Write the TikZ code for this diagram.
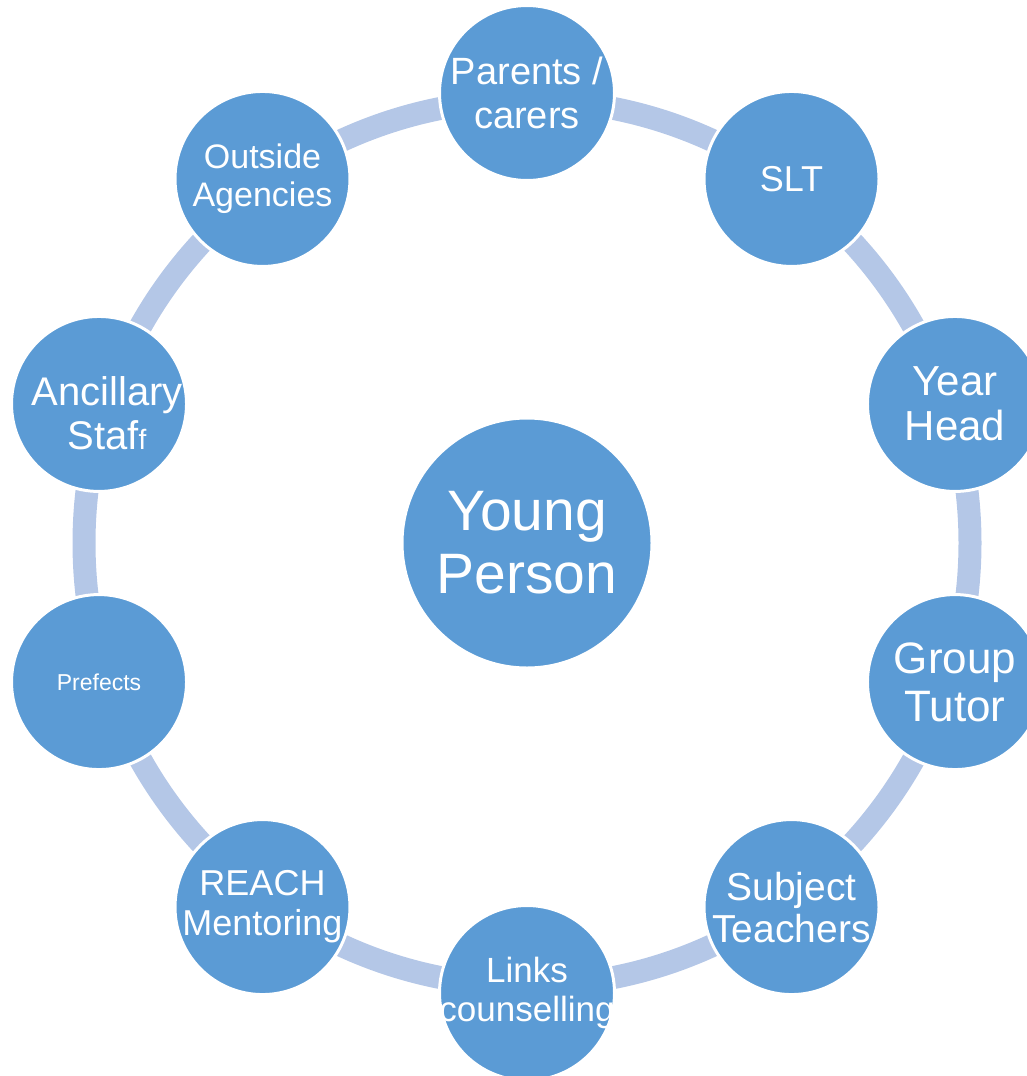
\documentclass[tikz,border=0pt]{standalone}
\usepackage{fontspec}
\setmainfont{Liberation Sans}
\definecolor{bubble}{HTML}{5B9BD5}
\definecolor{ringblue}{HTML}{B4C7E7}
\newcommand\wide[1]{\makebox[0pt]{#1}}
\tikzset{
	member/.style={circle, fill=bubble, draw=white, line width=3pt, minimum size=175pt, inner sep=0pt, text=white, align=center},
	ring/.style={draw=ringblue, line width=23pt}
}
\begin{document}
\begin{tikzpicture}[x=1pt, y=1pt, line join=round, line cap=round]
	\def\R{450} \def\r{443}
	\useasboundingbox (0,0) rectangle (1027,-1076);
	\begin{scope}[shift={(527,-543)}]
		% the ring behind everything
		\draw[ring] (0,0) circle[radius=\r];
		\node[member, minimum size=250pt, font=\fontsize{57}{63}\selectfont] (young) at (0,0) {Young\\Person};
		\node[member, font=\fontsize{38}{44}\selectfont] (parents) at (90:\R) {\wide{Parents /}\\carers};
		\node[member, font=\fontsize{36}{42}\selectfont] (slt) at (54:\R) {SLT};
		\node[member, font=\fontsize{42}{45}\selectfont] (yearhead) at (18:\R) {Year\\Head};
		\node[member, font=\fontsize{44}{48}\selectfont] (tutor) at (-18:\R) {Group\\Tutor};
		\node[member, font=\fontsize{39}{42}\selectfont] (subject) at (-54:\R) {\wide{Subject}\\\wide{Teachers}};
		\node[member, font=\fontsize{35}{39}\selectfont] (links) at (-90:\R) {\wide{Links}\\\wide{counselling}};
		\node[member, font=\fontsize{36}{40}\selectfont] (reach) at (-126:\R) {\wide{REACH}\\\wide{Mentoring}};
		\node[member, font=\fontsize{23}{26}\selectfont] (prefects) at (-162:\R) {Prefects};
		\node[member] (ancillary) at (162:\R) {};
		\node[text=white, align=center, font=\fontsize{40}{44}\selectfont, xshift=8pt, yshift=-9pt] (ancillarytext) at (ancillary) {\wide{Ancillary}\\\wide{Staf{\fontsize{28}{30}\selectfont f}}};
		\node[member, font=\fontsize{34}{38}\selectfont] (outside) at (126:\R) {\wide{Outside}\\\wide{Agencies}};
	\end{scope}
\end{tikzpicture}
\end{document}
